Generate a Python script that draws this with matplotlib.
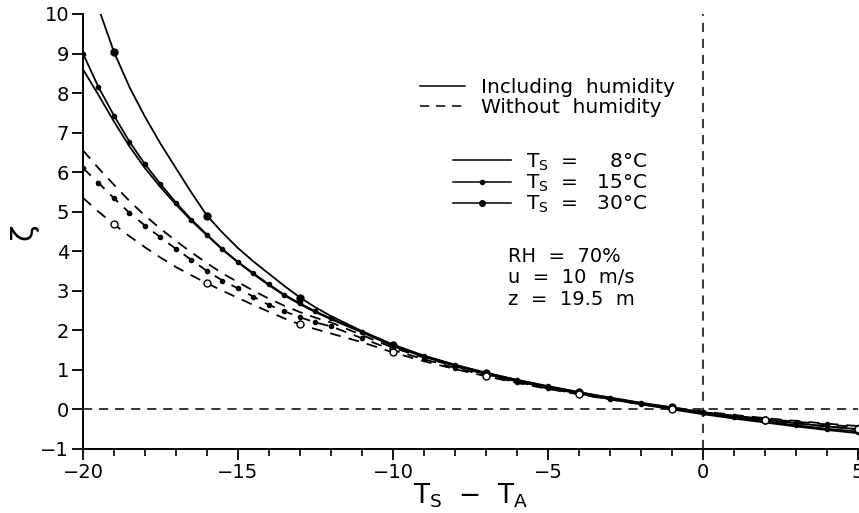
import numpy as np
import matplotlib
matplotlib.use("Agg")
import matplotlib.pyplot as plt
from matplotlib.lines import Line2D

# === Data (zeta vs Ts - Ta) ===
dT = [-20, -19.5, -19, -18.5, -18, -17.5, -17, -16.5, -16, -15.5, -15, -14.5,
      -14, -13.5, -13, -12.5, -12, -11, -10, -9, -8, -7, -6, -5, -4, -3, -2,
      -1, 0, 1, 2, 3, 4, 5]

# including humidity
hum_8 = [8.60, 7.95, 7.28, 6.65, 6.10, 5.62, 5.18, 4.77, 4.40, 4.04, 3.72, 3.42,
         3.14, 2.88, 2.66, 2.46, 2.28, 1.95, 1.60, 1.33, 1.10, 0.90, 0.72, 0.55,
         0.40, 0.26, 0.13, 0.00, -0.12, -0.23, -0.33, -0.43, -0.52, -0.60]
hum_15 = [9.00, 8.15, 7.43, 6.77, 6.20, 5.70, 5.23, 4.80, 4.42, 4.05, 3.73, 3.44,
          3.16, 2.90, 2.68, 2.48, 2.30, 1.97, 1.62, 1.35, 1.12, 0.92, 0.74, 0.58,
          0.43, 0.29, 0.16, 0.03, -0.09, -0.20, -0.30, -0.40, -0.49, -0.56]
hum_30 = [np.nan, 10.15, 9.04, 8.15, 7.40, 6.72, 6.10, 5.48, 4.90, 4.47, 4.08, 3.74,
          3.43, 3.12, 2.83, 2.58, 2.36, 1.98, 1.64, 1.36, 1.13, 0.93, 0.75, 0.59,
          0.44, 0.30, 0.17, 0.05, -0.07, -0.17, -0.26, -0.35, -0.43, -0.50]

# without humidity
dry_8 = [6.55, 6.10, 5.68, 5.27, 4.90, 4.57, 4.26, 3.97, 3.70, 3.44, 3.22, 3.00,
         2.80, 2.62, 2.46, 2.32, 2.20, 1.88, 1.56, 1.31, 1.09, 0.89, 0.71, 0.55,
         0.41, 0.28, 0.16, 0.05, -0.05, -0.14, -0.22, -0.29, -0.36, -0.42]
dry_15 = [6.10, 5.73, 5.34, 4.97, 4.65, 4.35, 4.06, 3.78, 3.50, 3.26, 3.06, 2.85,
          2.64, 2.48, 2.33, 2.20, 2.10, 1.80, 1.50, 1.27, 1.05, 0.86, 0.69, 0.53,
          0.39, 0.26, 0.14, 0.03, -0.07, -0.16, -0.24, -0.31, -0.38, -0.45]
dry_30 = [5.35, 5.00, 4.68, 4.38, 4.10, 3.84, 3.60, 3.39, 3.19, 3.00, 2.82, 2.64,
          2.47, 2.30, 2.15, 2.03, 1.92, 1.70, 1.44, 1.22, 1.02, 0.84, 0.67, 0.52,
          0.38, 0.25, 0.13, 0.02, -0.08, -0.18, -0.27, -0.35, -0.43, -0.50]

# 30 C curves carry a marker every 3 degrees
marks_30 = [-19, -16, -13, -10, -7, -4, -1, 2, 5]

plt.rcParams['font.family'] = ['DejaVu Sans']
plt.rcParams['mathtext.fontset'] = 'dejavusans'

fig = plt.figure(figsize=(8.59, 5.13), dpi=100)
ax = fig.add_axes([0.0966, 0.1248, 0.9022, 0.848])

x = np.array(dT)
idx30 = [int(np.where(x == m)[0][0]) for m in marks_30]
dash = (6, 4.5)
lw = 1.3

ax.plot(x, hum_8, color='black', lw=lw)
ax.plot(x, hum_15, color='black', lw=lw, marker='o', ms=3)
ax.plot(x, hum_30, color='black', lw=lw, marker='o', ms=5, markevery=idx30)
ax.plot(x, dry_8, color='black', lw=lw, ls=(0, dash))
ax.plot(x, dry_15, color='black', lw=lw, ls=(0, dash), marker='o', ms=3)
ax.plot(x, dry_30, color='black', lw=lw, ls=(0, dash), marker='o', ms=5,
        markevery=idx30, mfc='white')

# reference lines
ax.axhline(0, color='black', lw=1.1, ls=(0, dash))
ax.axvline(0, color='black', lw=1.1, ls=(0, dash))

ax.set_xlim(-20, 5)
ax.set_ylim(-1, 10)
ax.spines['top'].set_visible(False)
ax.spines['right'].set_visible(False)
for s in ['left', 'bottom']:
    ax.spines[s].set_linewidth(1.4)

ax.set_xticks([-20, -15, -10, -5, 0, 5])
ax.set_xticks(np.arange(-20, 6, 1), minor=True)
ax.set_yticks(np.arange(-1, 11, 1))
ax.tick_params(axis='both', which='major', direction='out', length=8, width=1.3,
               labelsize=14, pad=2)
ax.tick_params(axis='x', which='minor', direction='out', length=5, width=1.2)
ax.set_xticklabels(['\u221220', '\u221215', '\u221210', '\u22125', '0', '5'])

ax.set_xlabel('T$_\\mathrm{S}$  \u2212  T$_\\mathrm{A}$', fontsize=19, labelpad=0)
ax.set_ylabel('\u03b6', fontsize=22)
ax.yaxis.set_label_coords(-0.058, 0.5)

# legends
h1 = [Line2D([], [], color='black', lw=1.1),
      Line2D([], [], color='black', lw=1.1, ls=(0, dash))]
leg1 = ax.legend(h1, ['Including  humidity', 'Without  humidity'],
                 loc='upper left', bbox_to_anchor=(0.435, 0.853), frameon=False,
                 fontsize=14.5, handlelength=2.25, handletextpad=0.75,
                 labelspacing=0.05, borderpad=0, borderaxespad=0)
ax.add_artist(leg1)

h2 = [Line2D([], [], color='black', lw=1.1),
      Line2D([], [], color='black', lw=1.1, marker='o', ms=3, markevery=0.25),
      Line2D([], [], color='black', lw=1.1, marker='o', ms=4, markevery=0.25)]
ax.legend(h2, ['T$_\\mathrm{S}$  =   \u20078\u00b0C', 'T$_\\mathrm{S}$  =   15\u00b0C',
               'T$_\\mathrm{S}$  =   30\u00b0C'],
          loc='upper left', bbox_to_anchor=(0.478, 0.684), frameon=False,
          fontsize=14.5, handlelength=2.85, handletextpad=0.75,
          labelspacing=0.0, borderpad=0, borderaxespad=0)

ax.text(0.548, 0.464, 'RH  =  70%\nu  =  10  m/s\nz  =  19.5  m',
        transform=ax.transAxes, fontsize=14, va='top', ha='left',
        linespacing=1.15)

fig.savefig('out.png', dpi=100)
